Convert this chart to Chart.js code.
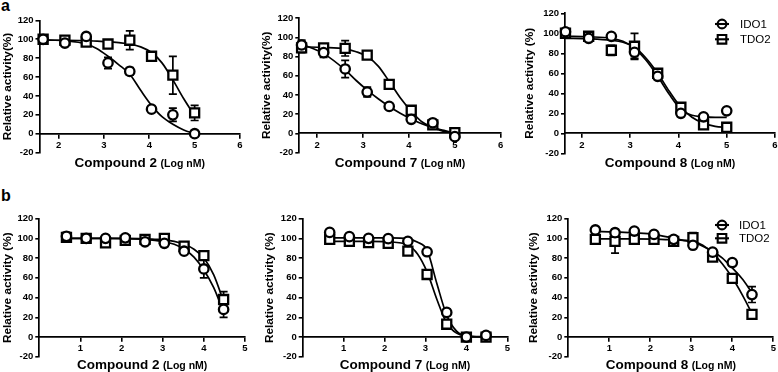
<!DOCTYPE html>
<html><head><meta charset="utf-8">
<script src="https://cdn.jsdelivr.net/npm/chart.js@4.4.0/dist/chart.umd.min.js"></script>
<style>
html,body{margin:0;padding:0;background:#fff;width:778px;height:372px;overflow:hidden;position:relative;}
canvas{position:absolute;}
.lbl{position:absolute;font:bold 16px "Liberation Sans",Arial,sans-serif;color:#000;line-height:16px;}
</style></head><body>
<div class="lbl" style="left:1px;top:-2px">a</div>
<div class="lbl" style="left:1px;top:188px">b</div>
<canvas id="c1"></canvas><canvas id="c2"></canvas><canvas id="c3"></canvas>
<canvas id="c4"></canvas><canvas id="c5"></canvas><canvas id="c6"></canvas>
<script>
// ---------- data ----------
const SERIES = ['IDO1', 'TDO2'];
const COMPOUNDS = ['Compound 2', 'Compound 7', 'Compound 8'];
const X_UNIT = '(Log nM)';
const TICKS_X_A = [2, 3, 4, 5, 6];
const TICKS_X_B = [1, 2, 3, 4, 5];
const TICKS_Y = [-20, 0, 20, 40, 60, 80, 100, 120];

// log concentrations of measured points
const X_A = [1.66, 2.14, 2.61, 3.09, 3.57, 4.05, 4.52, 5.00];
const X_B = [0.66, 1.14, 1.61, 2.09, 2.57, 3.04, 3.52, 4.00, 4.48];
// x positions where the fitted curves were read
const CX_A = [1.66, 2.14, 2.61, 2.85, 3.09, 3.33, 3.57, 3.81, 4.05, 4.28, 4.52, 4.76, 5.00];
const CX_B = [0.66, 1.14, 1.61, 2.09, 2.57, 2.81, 3.04, 3.28, 3.52, 3.76, 4.00, 4.24, 4.48];

// row a
const A1_IDO1 = [100, 96, 103, 75, 66, 26, 20, 0];
const A1_IDO1_ERR = [2, 3, 2, 6, 4, 2, 7, 2];
const A1_TDO2 = [100, 99, 97, 95, 99, 82, 62, 22];
const A1_TDO2_ERR = [2, 2, 2, 2, 10, 2, 20, 8];
const A1_IDO1_FIT = [99.5, 98.5, 95, 90, 82, 73, 63, 46, 30, 18, 10, 4, 0];
const A1_TDO2_FIT = [99, 99, 98.5, 98, 97.5, 96.5, 95, 92, 86, 75, 57, 37, 19];

const A2_IDO1 = [92, 84, 67, 43, 28, 14.6, 11, -3.5];
const A2_IDO1_ERR = [5, 5, 9, 5, 2, 2, 2, 2];
const A2_TDO2 = [89, 89, 88.5, 81.5, 51, 24, 8.7, 0.7];
const A2_TDO2_ERR = [5, 2, 8, 2, 2, 4, 2, 2];
const A2_IDO1_FIT = [93, 83, 66, 55, 45, 36, 28, 21, 15, 10, 6, 3, 0];
const A2_TDO2_FIT = [90, 89.5, 88, 85, 80, 70, 54, 37, 23, 12, 6, 2, 0.5];

const A3_IDO1 = [101.5, 95, 97, 81, 57, 20, 16.5, 22.5];
const A3_IDO1_ERR = [2, 2, 2, 6, 2, 2, 2, 2];
const A3_TDO2 = [100, 97, 83, 87, 60, 26, 8.5, 6];
const A3_TDO2_ERR = [2, 2, 5, 13, 2, 2, 2, 2];
const A3_IDO1_FIT = [97, 96.5, 95, 92, 85, 73, 57, 39, 24, 18, 16.5, 16, 16];
const A3_TDO2_FIT = [95, 94.5, 93, 91, 86, 75, 60, 42, 26, 16, 10, 7, 6];

// row b
const B1_IDO1 = [102, 100, 100, 100.5, 96.5, 95, 87, 69, 28];
const B1_IDO1_ERR = [4, 2, 2, 2, 2, 2, 2, 9, 8];
const B1_TDO2 = [101, 100, 95.5, 98, 99, 100, 92, 82.5, 38];
const B1_TDO2_ERR = [3, 2, 2, 2, 2, 2, 2, 2, 8];
const B1_IDO1_FIT = [100, 100, 100, 99.8, 99, 98, 96.5, 94, 89, 81, 68, 50, 25];
const B1_TDO2_FIT = [100, 100, 100, 100, 99.5, 99, 98.5, 97, 94, 89, 80, 63, 36];

const B2_IDO1 = [106, 101.7, 100, 99.7, 97, 86.4, 25, 0, 1.7];
const B2_IDO1_ERR = [2, 2, 2, 2, 2, 2, 3, 2, 2];
const B2_TDO2 = [99, 97, 95.6, 95, 87, 63.4, 13, 0, 0];
const B2_TDO2_ERR = [2, 2, 2, 3, 2, 2, 3, 2, 2];
const B2_IDO1_FIT = [100.5, 100.5, 100.5, 100.4, 99.5, 96, 88, 54, 22, 6, 1, 0.5, 0.3];
const B2_TDO2_FIT = [97, 97, 97, 96.5, 93, 84, 66, 38, 14, 4, 1, 0.3, 0];

const B3_IDO1 = [108.5, 105.7, 107.4, 104, 99, 93, 86, 75.5, 43];
const B3_IDO1_ERR = [2, 2, 2, 2, 2, 2, 2, 2, 8];
const B3_TDO2 = [99, 97, 99, 99, 97, 100.7, 81, 59.5, 23];
const B3_TDO2_ERR = [2, 12, 2, 2, 2, 5, 3, 2, 2];
const B3_IDO1_FIT = [107, 106.5, 105.5, 104, 100, 98, 96, 92, 87, 80, 70, 59, 45];
const B3_TDO2_FIT = [99.5, 99.5, 99.5, 99.3, 98.5, 98, 97, 93, 85, 74, 60, 43, 24];

// ---------- layout ----------
const FONT = '"Liberation Sans", Arial, Helvetica, sans-serif';
const PANELS = [
  {id:'c1', cl:0,   ct:0,   cw:258, ch:186, axisX:39.5,  top:20.4,  bottom:152.6, right:240,   titleX:7.6,  xmin:1.58, xmax:6, xt:TICKS_X_A, px:X_A, cx:CX_A, ytitle:'Relative activity(%)',  comp:0, baseY:167,
   d:[A1_IDO1, A1_IDO1_ERR, A1_IDO1_FIT, A1_TDO2, A1_TDO2_ERR, A1_TDO2_FIT]},
  {id:'c2', cl:258, ct:0,   cw:258, ch:186, axisX:299.3, top:18.1,  bottom:152.5, right:500.7, titleX:266.6, xmin:1.61, xmax:6, xt:TICKS_X_A, px:X_A, cx:CX_A, ytitle:'Relative activity(%)',  comp:1, baseY:167,
   d:[A2_IDO1, A2_IDO1_ERR, A2_IDO1_FIT, A2_TDO2, A2_TDO2_ERR, A2_TDO2_FIT]},
  {id:'c3', cl:516, ct:0,   cw:290, ch:186, axisX:565,   top:13.3,  bottom:153.3, right:775,   titleX:530,  xmin:1.65, xmax:6, xt:TICKS_X_A, px:X_A, cx:CX_A, ytitle:'Relative activity (%)', comp:2, baseY:167,
   d:[A3_IDO1, A3_IDO1_ERR, A3_IDO1_FIT, A3_TDO2, A3_TDO2_ERR, A3_TDO2_FIT], legend:{x:722, y:[24, 39.3], tx:740}},
  {id:'c4', cl:0,   ct:186, cw:258, ch:186, axisX:39.3,  top:218.6, bottom:356.8, right:245,   titleX:7.6,  xmin:0, xmax:5, xt:TICKS_X_B, px:X_B, cx:CX_B, ytitle:'Relative activity (%)', comp:0, baseY:368.5,
   d:[B1_IDO1, B1_IDO1_ERR, B1_IDO1_FIT, B1_TDO2, B1_TDO2_ERR, B1_TDO2_FIT]},
  {id:'c5', cl:258, ct:186, cw:258, ch:186, axisX:302.7, top:218.6, bottom:356.8, right:508.3, titleX:270,  xmin:0, xmax:5, xt:TICKS_X_B, px:X_B, cx:CX_B, ytitle:'Relative activity (%)', comp:1, baseY:368.5,
   d:[B2_IDO1, B2_IDO1_ERR, B2_IDO1_FIT, B2_TDO2, B2_TDO2_ERR, B2_TDO2_FIT]},
  {id:'c6', cl:516, ct:186, cw:290, ch:186, axisX:568.3, top:218.6, bottom:356.8, right:773.3, titleX:534,  xmin:0, xmax:5, xt:TICKS_X_B, px:X_B, cx:CX_B, ytitle:'Relative activity (%)', comp:2, baseY:368.5,
   d:[B3_IDO1, B3_IDO1_ERR, B3_IDO1_FIT, B3_TDO2, B3_TDO2_ERR, B3_TDO2_FIT], legend:{x:722, y:[225, 238.3], tx:739}}
];

const TITLE_SIZE = 11.8;
const STYLES = [
  {pointStyle:'circle', radius:4.7},
  {pointStyle:'rect', radius:6.4}
];

const errorBars = {
  id:'errorBars',
  beforeDatasetsDraw(chart) {
    const ctx = chart.ctx, xs = chart.scales.x, ys = chart.scales.y;
    ctx.save();
    ctx.strokeStyle = '#000'; ctx.lineWidth = 1.7;
    chart.data.datasets.forEach(ds => {
      if (!ds.err) return;
      ds.data.forEach((p, i) => {
        const e = ds.err[i]; if (!e) return;
        const px = xs.getPixelForValue(p.x);
        const y1 = ys.getPixelForValue(p.y + e), y2 = ys.getPixelForValue(p.y - e);
        ctx.beginPath();
        ctx.moveTo(px, y1); ctx.lineTo(px, y2);
        ctx.moveTo(px - 4, y1); ctx.lineTo(px + 4, y1);
        ctx.moveTo(px - 4, y2); ctx.lineTo(px + 4, y2);
        ctx.stroke();
      });
    });
    ctx.restore();
  }
};

const extras = {
  id:'extras',
  afterDraw(chart, args, opts) {
    const ctx = chart.ctx, ca = chart.chartArea;
    ctx.save();
    ctx.fillStyle = '#000';
    // x-axis title with two font sizes
    const big = 'bold 13.5px ' + FONT, small = 'bold 10.5px ' + FONT;
    ctx.font = big; const w1 = ctx.measureText(opts.comp).width;
    ctx.font = small; const w2 = ctx.measureText(opts.unit).width;
    const gap = 3.5, tot = w1 + gap + w2;
    let x0 = (ca.left + ca.right) / 2 - tot / 2;
    ctx.textBaseline = 'alphabetic'; ctx.textAlign = 'left';
    ctx.font = big; ctx.fillText(opts.comp, x0, opts.baseY);
    ctx.font = small; ctx.fillText(opts.unit, x0 + w1 + gap, opts.baseY);
    // legend
    if (opts.legend) {
      const L = opts.legend;
      ctx.font = '11.5px ' + FONT; ctx.textBaseline = 'middle';
      ctx.strokeStyle = '#000'; ctx.lineWidth = 2.1;
      chart.data.datasets.filter(d => d.err).forEach((ds, k) => {
        const y = L.y[k];
        ctx.beginPath(); ctx.moveTo(L.x - 7, y); ctx.lineTo(L.x + 7, y); ctx.stroke();
        ctx.beginPath();
        if (ds.pointStyle === 'circle') ctx.arc(L.x, y, 4.4, 0, Math.PI * 2);
        else ctx.rect(L.x - 4.3, y - 4.3, 8.6, 8.6);
        ctx.stroke();
        ctx.fillText(ds.label, L.tx, y + 0.5);
      });
    }
    ctx.restore();
  }
};

PANELS.forEach(P => {
  const cv = document.getElementById(P.id);
  cv.width = P.cw; cv.height = P.ch;
  cv.style.left = P.cl + 'px'; cv.style.top = P.ct + 'px';
  cv.style.width = P.cw + 'px'; cv.style.height = P.ch + 'px';
  const padL = P.titleX - TITLE_SIZE / 2 - P.cl;
  const yW = P.axisX - P.cl - padL;
  const datasets = [];
  SERIES.forEach((name, k) => {
    const vals = P.d[k * 3], errs = P.d[k * 3 + 1], fit = P.d[k * 3 + 2];
    datasets.push({
      label: name, type:'scatter', err: errs,
      data: P.px.map((x, i) => ({x, y: vals[i]})),
      pointStyle: STYLES[k].pointStyle, pointRadius: STYLES[k].radius,
      pointBorderWidth: 2.3, pointBackgroundColor:'#fff', pointBorderColor:'#000',
      showLine:false, clip:false, order: 0
    });
    datasets.push({
      label: name + ' fit', type:'line',
      data: P.cx.map((x, i) => ({x, y: fit[i]})),
      borderColor:'#000', borderWidth:1.7, pointRadius:0, fill:false,
      cubicInterpolationMode:'monotone', clip:false, order: 1
    });
  });
  const tickFont = {family: FONT, size: 9.5, weight: 'bold'};
  new Chart(cv, {
    type:'scatter',
    data:{datasets},
    plugins:[errorBars, extras],
    options:{
      responsive:false, animation:false, devicePixelRatio:1,
      layout:{padding:{left: padL, top: P.top - P.ct, right: P.cl + P.cw - P.right, bottom: P.ct + P.ch - P.bottom}},
      plugins:{
        legend:{display:false}, tooltip:{enabled:false},
        extras:{comp: COMPOUNDS[P.comp], unit: X_UNIT, baseY: P.baseY - P.ct,
                legend: P.legend ? {x: P.legend.x - P.cl, y: P.legend.y.map(v => v - P.ct), tx: P.legend.tx - P.cl} : null}
      },
      scales:{
        x:{type:'linear', position:{y:0}, min:P.xmin, max:P.xmax,
           afterBuildTicks: s => { s.ticks = P.xt.map(v => ({value:v})); },
           grid:{display:true, drawOnChartArea:false, drawTicks:true, tickLength:4, color:'#000', lineWidth:1.6},
           border:{display:true, color:'#000', width:1.7},
           ticks:{font:tickFont, color:'#000', padding:2, autoSkip:false, maxRotation:0}
        },
        y:{type:'linear', position:'left', min:-20, max:120,
           afterBuildTicks: s => { s.ticks = TICKS_Y.map(v => ({value:v})); },
           afterFit: s => { s.width = yW; },
           grid:{display:true, drawOnChartArea:false, drawTicks:true, tickLength:4, color:'#000', lineWidth:1.6},
           border:{display:true, color:'#000', width:1.7},
           ticks:{font:tickFont, color:'#000', padding:2},
           title:{display:true, text:P.ytitle, color:'#000', padding:0,
                  font:{family: FONT, size: TITLE_SIZE, weight:'bold', lineHeight:1}}
        }
      }
    }
  });
});
</script>
</body></html>
